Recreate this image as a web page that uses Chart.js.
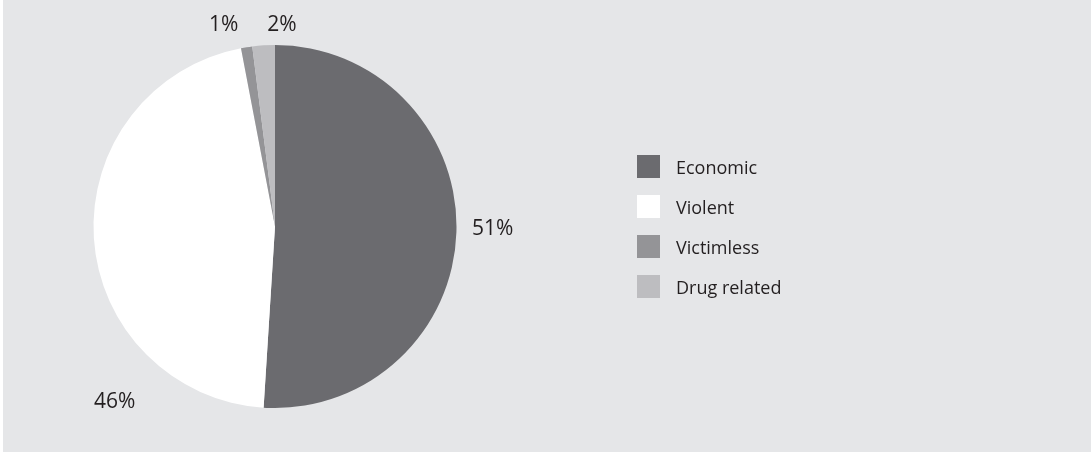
<!DOCTYPE html>
<html>
<head>
<meta charset="utf-8">
<script src="https://cdn.jsdelivr.net/npm/chart.js@4/dist/chart.umd.min.js"></script>
<style>
  html, body { margin: 0; padding: 0; }
  body {
    width: 1091px;
    height: 452px;
    background: #e5e6e8;
    border-left: 3px solid #ffffff;
    box-sizing: border-box;
    position: relative;
    overflow: hidden;
    font-family: "Open Sans", sans-serif;
  }
  #wrap { position: absolute; left: -3px; top: 0; width: 1091px; height: 452px; }
  #legend { position: absolute; left: 634px; top: 155px; }
  .item { height: 23px; margin-bottom: 17px; display: flex; align-items: center; }
  .box { width: 23px; height: 23px; margin-right: 16px; }
  .item span { font-size: 18px; color: #231f20; }
</style>
</head>
<body>
<div id="wrap"><canvas id="pieChart" width="1091" height="452"></canvas></div>
<div id="legend"></div>
<script>
"use strict";

const categories = ["Economic", "Violent", "Victimless", "Drug related"];
const shares = [51, 46, 1, 2];
const sliceColors = ["#6b6b6f", "#ffffff", "#949497", "#bdbdc0"];

// where each percent label sits: angle (deg clockwise from top) and distance / radius
const labelAngles = [90.7, 222.4, 345.7, 2];
const labelDist = [1.2, 1.31, 1.146, 1.11];

const legendEl = document.getElementById("legend");
for (let i = 0; i < categories.length; i++) {
  let row = document.createElement("div");
  row.className = "item";
  let box = document.createElement("div");
  box.className = "box";
  box.style.background = sliceColors[i];
  let txt = document.createElement("span");
  txt.textContent = categories[i];
  row.appendChild(box);
  row.appendChild(txt);
  legendEl.appendChild(row);
}

const pctLabels = {
  id: "pctLabels",
  afterDraw(chart) {
    const ctx = chart.ctx;
    const arc = chart.getDatasetMeta(0).data[0];
    ctx.save();
    ctx.font = '21px "Open Sans", sans-serif';
    ctx.fillStyle = "#231f20";
    ctx.textAlign = "center";
    ctx.textBaseline = "middle";
    for (let i = 0; i < shares.length; i++) {
      const a = (labelAngles[i] - 90) * Math.PI / 180;
      const r = arc.outerRadius * labelDist[i];
      ctx.fillText(shares[i] + "%", arc.x + Math.cos(a) * r, arc.y + Math.sin(a) * r);
    }
    ctx.restore();
  },
};

const pieConfig = {
  type: "pie",
  data: {
    labels: categories,
    datasets: [
      {
        data: shares,
        backgroundColor: sliceColors,
        borderWidth: 0,
      },
    ],
  },
  options: {
    responsive: false,
    animation: false,
    layout: {
      padding: { left: 93, right: 634, top: 45, bottom: 44 },
    },
    plugins: {
      legend: { display: false },
      tooltip: { enabled: false },
    },
  },
  plugins: [pctLabels],
};

const pieChart = new Chart(document.getElementById("pieChart"), pieConfig);
</script>
</body>
</html>
